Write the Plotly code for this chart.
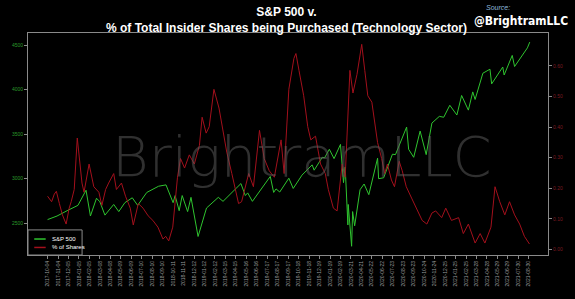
import plotly.graph_objects as go

# ---------------- data ----------------
sp_dates = ["2017-10-04","2017-11-01","2017-12-01","2018-01-02","2018-01-26","2018-02-08","2018-02-26",
            "2018-03-08","2018-03-23","2018-04-18","2018-05-03","2018-05-21","2018-06-12","2018-06-28",
            "2018-07-25","2018-08-29","2018-09-20","2018-10-11","2018-10-17","2018-10-29","2018-11-07",
            "2018-11-23","2018-12-03","2018-12-24","2019-01-18","2019-02-22","2019-03-08","2019-04-30",
            "2019-05-13","2019-05-20","2019-06-03","2019-07-26","2019-08-05","2019-08-12","2019-08-23",
            "2019-09-19","2019-10-02","2019-10-28","2019-11-27","2019-12-03","2019-12-27","2020-01-03",
            "2020-01-17","2020-01-31","2020-02-19","2020-02-28","2020-03-04","2020-03-12","2020-03-13",
            "2020-03-23","2020-03-26","2020-04-01","2020-04-17","2020-04-29","2020-05-13","2020-06-08",
            "2020-06-11","2020-06-26","2020-07-22","2020-07-31","2020-09-02","2020-09-08","2020-09-23",
            "2020-10-12","2020-10-30","2020-11-16","2020-12-08","2020-12-21","2021-01-08","2021-01-29",
            "2021-02-12","2021-03-04","2021-03-17","2021-03-24","2021-04-16","2021-05-07","2021-05-12",
            "2021-06-14","2021-06-18","2021-07-12","2021-07-19","2021-08-26","2021-09-02"]
sp_values = [2540,2580,2640,2700,2870,2580,2780,
             2740,2590,2710,2630,2730,2785,2700,
             2845,2915,2930,2730,2810,2640,2810,
             2630,2790,2350,2670,2790,2745,2945,
             2810,2840,2745,3025,2845,2885,2850,
             3005,2890,3040,3155,3095,3240,3235,
             3330,3225,3385,2955,3130,2480,2710,
             2240,2630,2470,2875,2940,2820,3230,
             3000,3010,3275,3270,3580,3330,3240,
             3535,3270,3625,3700,3690,3825,3715,
             3935,3770,3975,3890,4185,4230,4065,
             4255,4165,4385,4260,4470,4535]

pct_dates = ["2017-10-04","2017-10-16","2017-10-24","2017-10-30","2017-11-08","2017-11-17","2017-11-28",
             "2017-12-07","2017-12-13","2017-12-22","2017-12-31","2018-01-08","2018-01-14","2018-01-20",
             "2018-02-04","2018-02-18","2018-03-05","2018-03-14","2018-03-25","2018-04-03","2018-04-18",
             "2018-04-26","2018-05-11","2018-05-23","2018-06-06","2018-06-15","2018-06-30","2018-07-14",
             "2018-07-29","2018-08-12","2018-08-27","2018-09-11","2018-09-19","2018-09-28","2018-10-10",
             "2018-10-24","2018-11-02","2018-11-14","2018-11-28","2018-12-13","2018-12-28","2019-01-05",
             "2019-01-17","2019-01-26","2019-02-09","2019-02-24","2019-03-05","2019-03-19","2019-04-03",
             "2019-04-12","2019-04-23","2019-05-02","2019-05-11","2019-05-23","2019-06-06","2019-06-24",
             "2019-07-08","2019-07-23","2019-08-07","2019-08-27","2019-09-05","2019-09-19","2019-10-04",
             "2019-10-10","2019-10-19","2019-11-02","2019-11-14","2019-11-23","2019-12-07","2019-12-22",
             "2020-01-05","2020-01-14","2020-01-29","2020-02-09","2020-02-24","2020-03-04","2020-03-18",
             "2020-03-27","2020-04-08","2020-04-22","2020-05-01","2020-05-10","2020-05-22","2020-05-30",
             "2020-06-08","2020-06-20","2020-06-29","2020-07-07","2020-07-19","2020-07-28","2020-08-11",
             "2020-08-20","2020-09-01","2020-09-18","2020-09-30","2020-10-18","2020-11-01","2020-11-16",
             "2020-11-27","2020-12-15","2020-12-27","2021-01-13","2021-02-03","2021-02-17","2021-03-04",
             "2021-03-24","2021-04-08","2021-04-22","2021-05-10","2021-05-22","2021-06-05","2021-06-20",
             "2021-07-04","2021-07-19","2021-08-03","2021-08-17","2021-09-01"]
pct_values = [0.174,0.156,0.181,0.190,0.150,0.113,0.083,
              0.135,0.156,0.196,0.364,0.272,0.217,0.187,
              0.279,0.205,0.187,0.144,0.196,0.217,0.248,
              0.196,0.217,0.174,0.135,0.080,0.150,0.135,
              0.110,0.095,0.073,0.034,0.043,0.028,0.073,
              0.236,0.297,0.266,0.309,0.279,0.340,0.432,
              0.380,0.401,0.523,0.462,0.401,0.318,0.248,
              0.205,0.150,0.156,0.196,0.248,0.205,0.389,
              0.297,0.257,0.236,0.358,0.248,0.523,0.624,
              0.640,0.585,0.502,0.401,0.358,0.370,0.279,
              0.248,0.196,0.135,0.126,0.279,0.236,0.585,
              0.511,0.572,0.670,0.585,0.502,0.481,0.410,
              0.349,0.297,0.248,0.279,0.227,0.205,0.288,
              0.257,0.205,0.165,0.135,0.095,0.083,0.119,
              0.126,0.104,0.135,0.095,0.104,0.052,0.083,
              0.021,0.052,0.021,0.073,0.205,0.156,0.113,
              0.156,0.113,0.083,0.043,0.018]

x_tick_labels = ["2017-10-04","2017-11-04","2017-12-05","2018-01-05","2018-02-05","2018-03-08","2018-04-08",
                 "2018-05-09","2018-06-09","2018-07-10","2018-08-10","2018-09-10","2018-10-11","2018-11-11",
                 "2018-12-12","2019-01-12","2019-02-12","2019-03-15","2019-04-15","2019-05-16","2019-06-16",
                 "2019-07-17","2019-08-17","2019-09-17","2019-10-18","2019-11-18","2019-12-19","2020-01-19",
                 "2020-02-19","2020-03-21","2020-04-21","2020-05-22","2020-06-22","2020-07-23","2020-08-23",
                 "2020-09-23","2020-10-24","2020-11-24","2020-12-25","2021-01-25","2021-02-25","2021-03-28",
                 "2021-04-28","2021-05-29","2021-06-29","2021-07-30","2021-08-30"]
left_ticks = [2500, 3000, 3500, 4000, 4500]
right_ticks = [0.0, 0.1, 0.2, 0.3, 0.4, 0.5, 0.6]
right_tick_labels = ["0.00", "0.10", "0.20", "0.30", "0.40", "0.50", "0.60"]
series_names = ["S&P 500", "% of Shares"]

GREEN = "#2fc42f"
RED = "#a3101c"
GRAY = "#8a8a8a"

fig = go.Figure()
fig.add_trace(go.Scatter(x=sp_dates, y=sp_values, mode="lines", name=series_names[0],
                         line=dict(color=GREEN, width=1), yaxis="y"))
fig.add_trace(go.Scatter(x=pct_dates, y=pct_values, mode="lines", name=series_names[1],
                         line=dict(color=RED, width=1), yaxis="y2"))

fig.update_layout(
    width=575, height=299,
    margin=dict(l=23, r=24, t=33, b=29),
    paper_bgcolor="black", plot_bgcolor="black",
    font=dict(family="Liberation Sans, Arial, sans-serif", color="white"),
    showlegend=False,
    xaxis=dict(type="date", range=["2017-08-07", "2021-10-26"],
               tickvals=x_tick_labels, ticktext=x_tick_labels, tickangle=-90,
               tickfont=dict(size=5, color="#9a9a9a"), ticks="outside", ticklen=3,
               tickcolor=GRAY, showgrid=False, zeroline=False,
               showline=True, linecolor=GRAY, linewidth=1, mirror=True),
    yaxis=dict(range=[2142, 4637], tickvals=left_ticks, ticks="outside", ticklen=3,
               tickcolor=GRAY, tickfont=dict(size=5, color="#2a9a2a"), showgrid=False,
               zeroline=False, showline=True, linecolor=GRAY, linewidth=1, mirror=True),
    yaxis2=dict(range=[-0.018, 0.707], tickvals=right_ticks, ticktext=right_tick_labels,
                overlaying="y", side="right", ticks="outside", ticklen=3, tickcolor=GRAY,
                tickfont=dict(size=5, color="#7a1a22"), showgrid=False, zeroline=False,
                showline=False),
)

# watermark
fig.add_annotation(text="BrightramLLC", xref="paper", yref="paper", x=0.527, y=0.445,
                   xanchor="center", yanchor="middle", showarrow=False,
                   font=dict(family="DejaVu Sans", size=56, weight=200,
                             color="rgba(95,95,95,0.5)"))

# legend box (custom, compact)
fig.add_shape(type="rect", xref="paper", yref="paper", x0=0, y0=0, x1=0.104, y1=0.113,
              line=dict(color=GRAY, width=1), fillcolor="black", layer="above")
fig.add_shape(type="line", xref="paper", yref="paper", x0=0.012, x1=0.034, y0=0.072, y1=0.072,
              line=dict(color=GREEN, width=1.5), layer="above")
fig.add_shape(type="line", xref="paper", yref="paper", x0=0.012, x1=0.034, y0=0.034, y1=0.034,
              line=dict(color=RED, width=1.5), layer="above")
for name, yy in zip(series_names, [0.072, 0.034]):
    fig.add_annotation(text=name, xref="paper", yref="paper", x=0.042, y=yy,
                       xanchor="left", yanchor="middle", showarrow=False,
                       font=dict(size=6, color="white"))

# titles
fig.add_annotation(text="<b>S&P 500 v.<br>% of Total Insider Shares being Purchased (Technology Sector)</b>",
                   xref="paper", yref="paper", x=0.498, y=1.057, xanchor="center", yanchor="middle",
                   showarrow=False, align="center",
                   font=dict(family="Liberation Sans, Arial, sans-serif", size=12, color="white"))
fig.add_annotation(text="<i>Source:</i>", xref="paper", yref="paper", x=0.877, y=1.116,
                   xanchor="left", yanchor="middle", showarrow=False,
                   font=dict(family="Liberation Sans, sans-serif", size=7, color="#8db8dc"))
fig.add_annotation(text="<b>@BrightramLLC</b>", xref="paper", yref="paper", x=1.043, y=1.053,
                   xanchor="right", yanchor="middle", showarrow=False,
                   font=dict(family="DejaVu Sans Condensed, Liberation Sans, sans-serif", size=12,
                             color="white"))

fig.write_html("out.html")
